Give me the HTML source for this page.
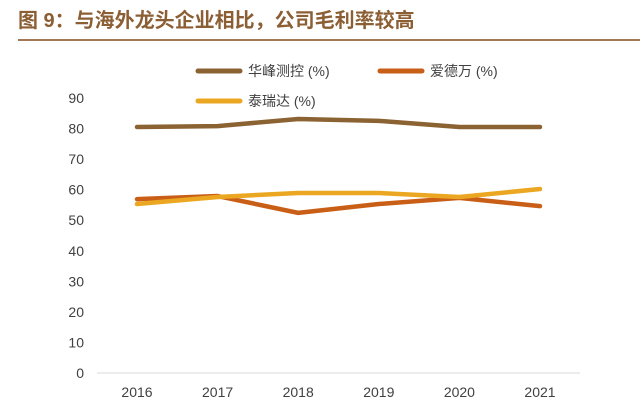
<!DOCTYPE html>
<html><head><meta charset="utf-8"><style>
body{margin:0;background:#fff;width:640px;height:412px;overflow:hidden;font-family:"Liberation Sans","Noto Sans CJK SC",sans-serif}
</style></head><body>
<svg width="640" height="412">
<text x="18" y="27" font-size="20" font-weight="bold" fill="#8b5e34" font-family="Liberation Sans, Noto Sans CJK SC, sans-serif">图 9：与海外龙头企业相比，公司毛利率较高</text>
<line x1="18" y1="40" x2="640" y2="40" stroke="#a17a55" stroke-width="2"/>
<g id="axes"></g><g id="series"></g><g id="legend"></g>
</svg>
<script>
const years=["2016","2017","2018","2019","2020","2021"];
const huafeng=[80.5,80.8,83.1,82.5,80.5,80.5];
const advantest=[56.9,57.9,52.4,55.3,57.3,54.6];
const teradyne=[55.3,57.6,58.9,58.9,57.6,60.2];
const yTicks=[0,10,20,30,40,50,60,70,80,90];
const names=["华峰测控 (%)","爱德万 (%)","泰瑞达 (%)"];
const NS="http://www.w3.org/2000/svg";
const svg=document.querySelector('svg');
const xs=i=>137+i*80.6;
const ys=v=>373-v*3.056;
function mk(t,a,p){const e=document.createElementNS(NS,t);for(const k in a)e.setAttribute(k,a[k]);p.appendChild(e);return e;}
const ax=document.getElementById('axes');
yTicks.forEach(v=>{const t=mk('text',{x:84,y:ys(v)+5,'text-anchor':'end','font-size':14,fill:'#404040'},ax);t.textContent=v;

});
const axl=mk('line',{x1:97,y1:373,x2:580,y2:373,stroke:'#d9d9d9','stroke-width':1},ax);


years.forEach((y,i)=>{const t=mk('text',{x:xs(i),y:397,'text-anchor':'middle','font-size':14,fill:'#404040'},ax);t.textContent=y;

});
const cols=["#8b6232","#c95e17","#eba721"];
const sg=document.getElementById('series');
[huafeng,advantest,teradyne].forEach((d,k)=>{const p=mk('polyline',{points:d.map((v,i)=>xs(i)+','+ys(v)).join(' '),fill:'none',stroke:cols[k],'stroke-width':4.5,'stroke-linecap':'round','stroke-linejoin':'round'},sg);

});
const lg=document.getElementById('legend');
const pos=[[198,71],[380,71],[198,101]];
names.forEach((n,k)=>{const [x,y]=pos[k];
const g=mk('g',{},lg);


mk('line',{x1:x,y1:y,x2:x+42,y2:y,stroke:cols[k],'stroke-width':5,'stroke-linecap':'round'},g);
const t=mk('text',{x:x+50,y:y+5,'font-size':14,fill:'#404040'},g);t.textContent=n;});
</script>
</body></html>
